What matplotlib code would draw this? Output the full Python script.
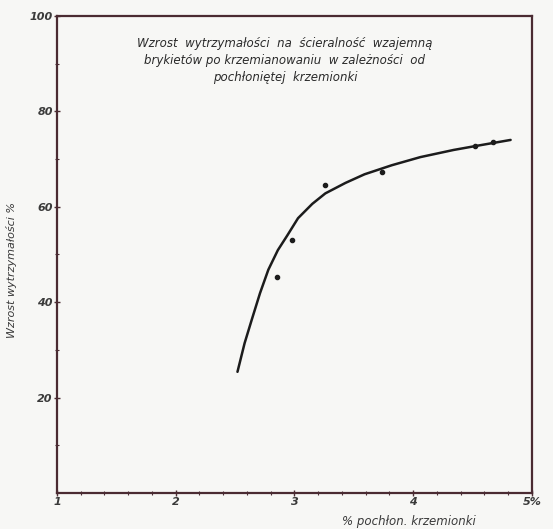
import matplotlib.pyplot as plt
import numpy as np

# curve (x = % absorbed silica, y = strength increase %)
curve_x = [2.52, 2.58, 2.64, 2.71, 2.78, 2.86, 2.94, 3.03, 3.15, 3.26, 3.43, 3.59, 3.82, 4.06, 4.34, 4.52, 4.82]
curve_y = [25.4, 31.4, 36.3, 41.9, 46.8, 50.9, 54.0, 57.6, 60.6, 62.8, 65.0, 66.8, 68.7, 70.4, 71.9, 72.7, 74.0]

# measured points
pts_x = [2.85, 2.98, 3.26, 3.74, 4.52, 4.67]
pts_y = [45.3, 53.0, 64.6, 67.3, 72.7, 73.6]

x_ticks = [1, 2, 3, 4, 5]
x_labels = ["1", "2", "3", "4", "5%"]
y_ticks = [20, 40, 60, 80, 100]

ink = "#4a2b32"
txt = "#3a3a3a"

fig = plt.figure(figsize=(5.53, 5.29), dpi=100, facecolor="#f7f7f5")
ax = fig.add_axes([0.103, 0.068, 0.859, 0.902])
ax.set_facecolor("#f7f7f5")

ax.plot(curve_x, curve_y, color="#1c1c1c", lw=1.8, solid_capstyle="round", solid_joinstyle="round")
ax.scatter(pts_x, pts_y, color="#1c1c1c", s=9, zorder=3)

ax.set_xlim(1, 5)
ax.set_ylim(0, 100)
ax.set_xticks(x_ticks)
ax.set_xticklabels(x_labels)
ax.set_yticks(y_ticks)
ax.set_xticks(np.arange(1, 5.01, 0.2), minor=True)
ax.set_yticks(np.arange(10, 100, 20), minor=True)

for s in ax.spines.values():
    s.set_color(ink)
    s.set_linewidth(1.6)

ax.tick_params(axis="both", which="major", color=ink, length=4, width=1, direction="inout",
               labelsize=8, labelcolor=txt, pad=1)
ax.tick_params(axis="both", which="minor", color=ink, length=3, width=0.8, direction="inout")
for lab in ax.get_xticklabels() + ax.get_yticklabels():
    lab.set_fontstyle("italic")
    lab.set_fontweight("bold")

ax.set_xlabel("% pochłon. krzemionki", fontsize=8.5, style="italic", color=txt)
ax.xaxis.set_label_coords(0.74, -0.045)
ax.set_ylabel("Wzrost wytrzymałości %", fontsize=8, style="italic", color=txt)
ax.yaxis.set_label_coords(-0.084, 0.467)

ax.text(0.48, 0.955,
        "Wzrost  wytrzymałości  na  ścieralność  wzajemną\n"
        "brykietów po krzemianowaniu  w zależności  od\n"
        "pochłoniętej  krzemionki",
        transform=ax.transAxes, ha="center", va="top", fontsize=8.5, style="italic",
        color="#2a2a2a", linespacing=1.4)

fig.savefig("out.png", dpi=100, facecolor=fig.get_facecolor())
